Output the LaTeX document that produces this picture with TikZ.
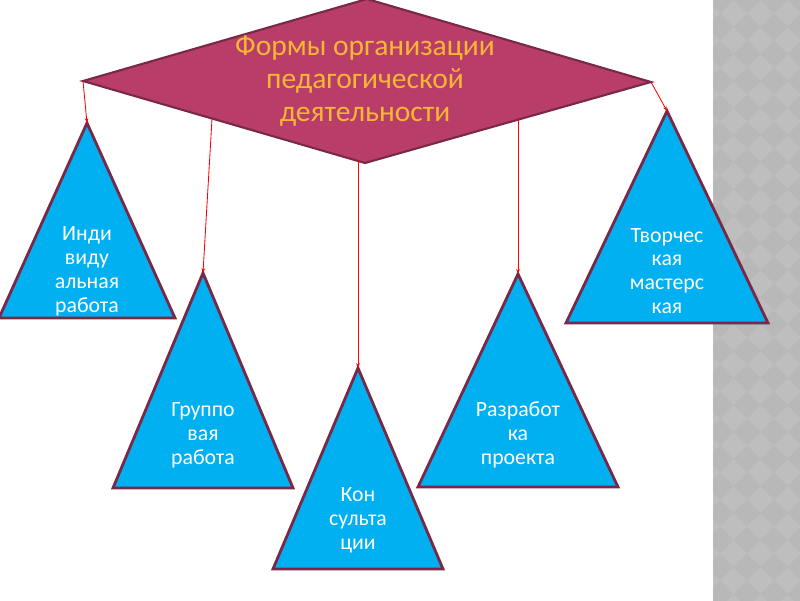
\documentclass[tikz,border=0pt]{standalone}
\usepackage{fontspec}
\setmainfont{Carlito}
\usetikzlibrary{arrows.meta, calc, positioning}

\begin{document}
\begin{tikzpicture}[x=0.025cm,y=-0.025cm]
  \definecolor{formfill}{RGB}{184,61,104}
  \definecolor{formedge}{RGB}{122,40,72}
  \definecolor{formtext}{RGB}{247,182,52}
  \definecolor{trifill}{RGB}{0,176,240}
  \definecolor{stripbase}{RGB}{190,190,190}
  \definecolor{stripdark}{RGB}{184,184,184}
  \tikzset{
    tribox/.style={fill=trifill, draw=formedge, line width=2pt, line join=miter},
    trilabel/.style={text=white, align=center, inner sep=0pt, font=\fontsize{15.5}{17}\selectfont},
    link/.style={draw=red, line width=0.6pt, -{Stealth[length=3.5pt, width=2.6pt]}}
  }
  \useasboundingbox (0,0) rectangle (800,600);
  % patterned strip on the right
  \fill[stripbase] (713,-5) rectangle (805,605);
  \begin{scope}
    \clip (713,-5) rectangle (805,605);
    \foreach \i in {0,...,4} {
      \foreach \j in {0,...,23} {
        \fill[stripdark] (706.5+\i*27, \j*27) -- ++(13.5,-13.5) -- ++(13.5,13.5) -- ++(-13.5,13.5) -- cycle;
      }
    }
  \end{scope}
  % the diamond
  \coordinate (dl) at (83,81);
  \coordinate (dt) at (367,-1);
  \coordinate (dr) at (651,82);
  \coordinate (db) at (365,163);
  \filldraw[fill=formfill, draw=formedge, line width=1.5pt, line join=miter] (dl) -- (dt) -- (dr) -- (db) -- cycle;
  \node[text=formtext, align=center, inner sep=0pt, font=\fontsize{21}{23.5}\selectfont] (forms) at (365,81)
    {Формы организации\\педагогической\\деятельности};
  % the five triangles
  \foreach \nm/\ax/\ay/\hw/\hh/\ty/\txt in {
      indiv/87/123/88/195/271/{Инди\\виду\\альная\\работа},
      group/203/273/90/215/435/{Группо\\вая\\работа},
      consult/358/368/85/201/520/{Кон\\сульта\\ции},
      project/518/274/100/213/435/{Разработ\\ка\\проекта},
      creative/667/111/101/212/271/{Творчес\\кая\\мастерс\\кая}} {
    \coordinate (\nm-top) at (\ax,\ay);
    \filldraw[tribox] (\ax,\ay) -- (\ax+\hw,\ay+\hh) -- (\ax-\hw,\ay+\hh) -- cycle;
    \node[trilabel] (\nm) at (\ax,\ty) {\txt};
  }
  % connectors
  \coordinate (dg) at (212,119);
  \coordinate (dc) at (358,160);
  \coordinate (dp) at (518,119);
  \draw[link] (dl) -- (indiv-top);
  \draw[link] (dg) -- (group-top);
  \draw[link] (dc) -- (consult-top);
  \draw[link] (dp) -- (project-top);
  \draw[link] (dr) -- (creative-top);
\end{tikzpicture}
\end{document}
